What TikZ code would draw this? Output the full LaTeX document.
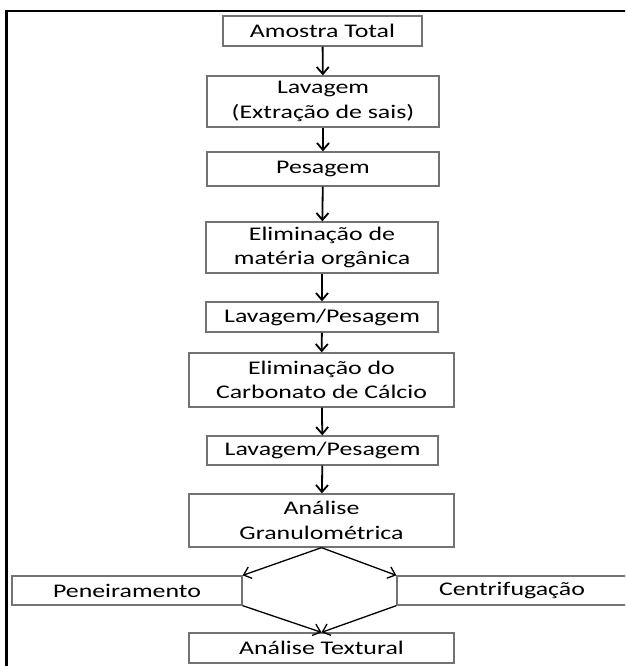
\documentclass[tikz,border=0pt]{standalone}
\usepackage{fontspec}
\setmainfont{Carlito}[FakeStretch=1.34]
\usetikzlibrary{arrows.meta}
\begin{document}
\begin{tikzpicture}[x=1pt,y=-1pt,
  box/.style={draw=black!55, line width=1.3pt, rectangle, inner sep=0pt, align=center, font=\fontsize{19.3}{24.5}\selectfont},
  varrow/.style={-{Straight Barb[length=7pt,width=12pt]}, line width=1.8pt},
  darrow/.style={-{Straight Barb[length=7pt,width=12pt]}, line width=1.3pt}]
\useasboundingbox (0,0) rectangle (625,666);
\clip (0,0) rectangle (625,666);
\draw[line width=2.5pt] (6.5,670) -- (6.5,11) -- (630,11);
\node[box, minimum width=199pt, minimum height=30pt] (a) at (322.5,31) {Amostra Total};
\node[box, minimum width=232pt, minimum height=51pt] (b) at (323,101.5) {Lavagem\\(Extração de sais)};
\node[box, minimum width=232pt, minimum height=34pt] (c) at (323,169) {Pesagem};
\node[box, minimum width=232pt, minimum height=51pt] (d) at (322,247.5) {Eliminação de\\matéria orgânica};
\node[box, minimum width=232pt, minimum height=30pt] (e) at (322,317) {Lavagem/Pesagem};
\node[box, minimum width=265pt, minimum height=54pt] (f) at (321.5,380) {Eliminação do\\Carbonato de Cálcio};
\node[box, minimum width=231pt, minimum height=29pt] (g) at (322.5,450.5) {Lavagem/Pesagem};
\node[box, minimum width=265pt, minimum height=53pt] (h) at (321.5,520.5) {Análise\\Granulométrica};
\node[box, minimum width=230pt, minimum height=29pt] (pen) at (127,590.5) {Peneiramento};
\node[box, minimum width=230pt, minimum height=29pt] (cen) at (512,590.5) {Centrifugação};
\node[box, minimum width=265pt, minimum height=30pt] (t) at (321.5,648) {Análise Textural};
\draw[varrow] (a) -- (b);
\draw[varrow] (b) -- (c);
\draw[varrow] (c) -- (d);
\draw[varrow] (d) -- (e);
\draw[varrow] (e) -- (f);
\draw[varrow] (f) -- (g);
\draw[varrow] (g) -- (h);
\draw[darrow] (h.south) -- (pen.north east);
\draw[darrow] (h.south) -- (cen.north west);
\draw[darrow] (pen.south east) -- (t.north);
\draw[darrow] (cen.south west) -- (t.north);
\end{tikzpicture}
\end{document}
